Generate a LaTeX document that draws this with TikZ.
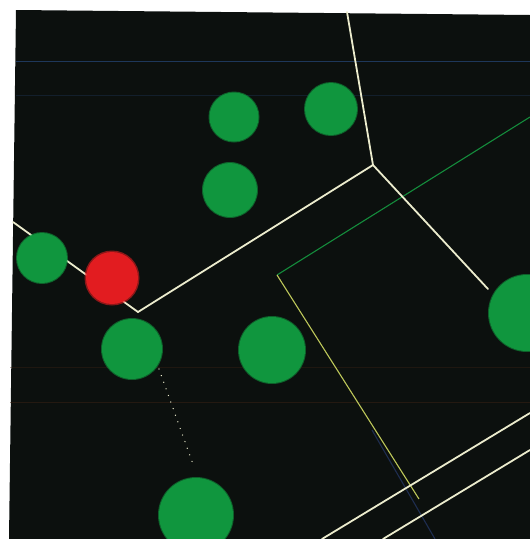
\documentclass[tikz,border=0pt]{standalone}
\usetikzlibrary{calc}
\definecolor{bg}{RGB}{12,16,14}
\definecolor{ballgreen}{RGB}{16,150,62}
\definecolor{ballred}{RGB}{226,28,32}
\definecolor{wline}{RGB}{236,236,205}
\definecolor{gline}{RGB}{20,140,60}
\definecolor{yline}{RGB}{190,200,90}
\definecolor{nline}{RGB}{30,45,80}
\definecolor{scan}{RGB}{30,55,90}
\tikzset{
  ball/.style={circle, inner sep=0pt, minimum size=#1, fill=ballgreen},
  redball/.style={circle, inner sep=0pt, minimum size=#1, fill=ballred},
  halo/.style={fill=#1, opacity=0.6},
  wall/.style={draw=wline, line width=1.8pt, line cap=round, line join=miter},
  greenwire/.style={draw=gline, line width=1.1pt},
  yellowwire/.style={draw=yline, line width=1.1pt},
  navywire/.style={draw=nline, line width=1.1pt},
  dotpath/.style={draw=wline, line width=1.4pt, dash pattern=on 0.01pt off 7pt, line cap=round},
  scanline/.style={draw=scan, line width=1pt}
}
\begin{document}
\begin{tikzpicture}[x=1pt,y=-1pt]
\useasboundingbox (0,0) rectangle (530,539);
\fill[white] (0,0) rectangle (530,539);
% dark screen
\fill[bg] (16,10) -- (530,15) -- (530,539) -- (9,539) -- cycle;
% scan lines
\draw[scanline] (16,61) -- (530,61);
\draw[scanline, opacity=0.4] (16,95) -- (530,95);
\draw[draw={rgb,255:red,60;green,35;blue,20}, line width=0.8pt, opacity=0.5] (10,402) -- (530,402);
\draw[draw={rgb,255:red,60;green,35;blue,20}, line width=0.8pt, opacity=0.4] (10,367) -- (530,367);

% coordinates of line ends and corners
\coordinate (topend) at (347,12);
\coordinate (vtx) at (373,165);
\coordinate (notch) at (138,312);
\coordinate (leftend) at (13,222);
\coordinate (rightend) at (488,289);
\coordinate (a1) at (530,413);
\coordinate (a2) at (322,539);
\coordinate (b1) at (530,450);
\coordinate (b2) at (383,539);
\coordinate (g1) at (530,117);
\coordinate (gy) at (277,275);
\coordinate (y2) at (419,499);
\coordinate (n1) at (372,430);
\coordinate (n2) at (435,539);

% wires
\draw[greenwire] (g1) -- (gy);
\draw[navywire] (n1) -- (n2);
\draw[yellowwire] (gy) -- (y2);
\draw[wall] (topend) -- (vtx) -- (notch) -- (leftend);
\draw[wall] (vtx) -- (rightend);
\draw[wall] (a1) -- (a2);
\draw[wall] (b1) -- (b2);

% balls (soft halo then body)
\foreach \n/\x/\y/\r in {b1/234/117/24.5, b2/230/190/27, b3/331/109/26, b4/42/258/25, b6/132/349/30, b7/272/350/33, b8/527/313/38, b9/196/515/37}{
  \fill[halo=ballgreen] (\x,\y) circle (\r+1);
  \node[ball=2*\r] (\n) at (\x,\y) {};
}
\fill[halo=ballred] (112,278) circle (27.5);
\node[redball=52pt] (red) at (112,278) {};

% dotted trail
\draw[dotpath] (159,369) -- (194,467);
\end{tikzpicture}
\end{document}
